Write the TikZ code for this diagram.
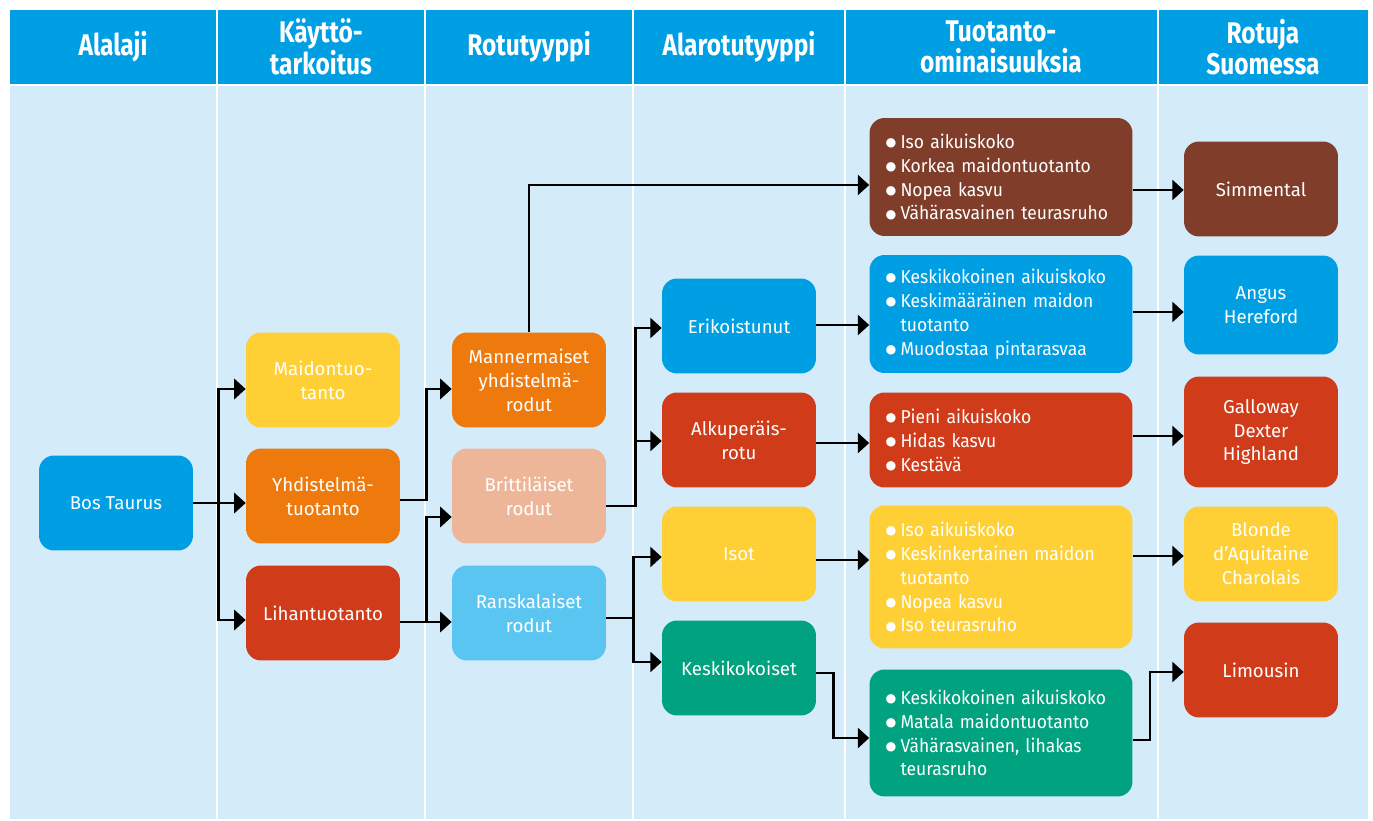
\documentclass[tikz,border=0pt]{standalone}
\usepackage{fontspec}
\setmainfont{Fira Sans}
\newfontfamily\headfont{Fira Sans}[FakeStretch=0.82]
\newfontfamily\traitfam{Fira Sans}[FakeStretch=0.94]
\newfontfamily\dotfont{DejaVu Sans}
\usetikzlibrary{arrows.meta}

\definecolor{hblue}{HTML}{009FE3}
\definecolor{bgblue}{HTML}{D4ECFA}
\definecolor{cblue}{HTML}{009FE3}
\definecolor{cyellow}{HTML}{FFD035}
\definecolor{corange}{HTML}{EE7A0E}
\definecolor{cred}{HTML}{D03C1A}
\definecolor{csalmon}{HTML}{EEB698}
\definecolor{clight}{HTML}{5BC5F1}
\definecolor{cgreen}{HTML}{00A27F}
\definecolor{cbrown}{HTML}{7F3D2A}

\newcommand{\bodyfont}{\fontsize{10.6pt}{13.6pt}\selectfont}
\newcommand{\traitfont}{\traitfam\fontsize{10.6pt}{13.6pt}\selectfont}
\newcommand{\bul}{\makebox[0.3cm][l]{\raisebox{1.1pt}{\dotfont\fontsize{7pt}{0pt}\selectfont ●}}}
\newcommand{\ind}{\hspace*{0.3cm}}

\begin{document}
\begin{tikzpicture}[x=0.02cm,y=-0.02cm,
	box/.style={rounded corners=0.3cm, minimum width=3.08cm, minimum height=1.9cm,
		align=center, text=white, font=\bodyfont, inner sep=2pt},
	trait/.style={rounded corners=0.3cm, text width=4.62cm, inner xsep=0.32cm,
		minimum height=#1, align=left, text=white, font=\traitfont},
	head/.style={text=white, align=center, font=\headfont\bfseries\fontsize{17pt}{18pt}\selectfont},
	sep/.style={white, line width=1.2pt},
	conn/.style={line width=1.4pt, -{Triangle[length=6.5pt,width=11.5pt]}}]
	\useasboundingbox (0,0) rectangle (1373,821);

	% background and header
	\fill[bgblue] (10,85) rectangle (1368,819);
	\fill[hblue] (10,10) rectangle (1368,85);
	\draw[sep] (217,10) -- (217,819);
	\draw[sep] (425,10) -- (425,819);
	\draw[sep] (633,10) -- (633,819);
	\draw[sep] (845,10) -- (845,819);
	\draw[sep] (1158,10) -- (1158,819);
	\draw[sep] (10,85) -- (1368,85);

	\node[head] (hAlalaji) at (113,47) {Alalaji};
	\node[head] (hKaytto) at (321,47) {Käyttö-\\tarkoitus};
	\node[head] (hRotu) at (529,47) {Rotutyyppi};
	\node[head] (hAlarotu) at (739,47) {Alarotutyyppi};
	\node[head] (hTuotanto) at (1001,47) {Tuotanto-\\ominaisuuksia};
	\node[head] (hSuomi) at (1263,47) {Rotuja\\Suomessa};

	% columns of boxes
	\node[box, fill=cblue] (bos) at (116,503) {Bos Taurus};

	\node[box, fill=cyellow] (maid) at (323,380) {Maidontuo-\\tanto};
	\node[box, fill=corange] (yhd) at (323,496) {Yhdistelmä-\\tuotanto};
	\node[box, fill=cred] (liha) at (323,613) {Lihantuotanto};

	\node[box, fill=corange] (mann) at (529,380) {Mannermaiset\\yhdistelmä-\\rodut};
	\node[box, fill=csalmon] (brit) at (529,496) {Brittiläiset\\rodut};
	\node[box, fill=clight] (rans) at (529,613) {Ranskalaiset\\rodut};

	\node[box, fill=cblue] (erik) at (739,326) {Erikoistunut};
	\node[box, fill=cred] (alku) at (739,440) {Alkuperäis-\\rotu};
	\node[box, fill=cyellow] (isot) at (739,554) {Isot};
	\node[box, fill=cgreen] (kesk) at (739,668) {Keskikokoiset};

	\node[trait=2.36cm, fill=cbrown] (t1) at (1001,177)
		{\bul Iso aikuiskoko\\\bul Korkea maidontuotanto\\\bul Nopea kasvu\\\bul Vähärasvainen teurasruho};
	\node[trait=2.36cm, fill=cblue] (t2) at (1001,314)
		{\bul Keskikokoinen aikuiskoko\\\bul Keskimääräinen maidon\\\ind tuotanto\\\bul Muodostaa pintarasvaa};
	\node[trait=1.9cm, fill=cred] (t3) at (1001,440)
		{\bul Pieni aikuiskoko\\\bul Hidas kasvu\\\bul Kestävä};
	\node[trait=2.86cm, fill=cyellow] (t4) at (1001,577)
		{\bul Iso aikuiskoko\\\bul Keskinkertainen maidon\\\ind tuotanto\\\bul Nopea kasvu\\\bul Iso teurasruho};
	\node[trait=2.54cm, fill=cgreen] (t5) at (1001,733)
		{\bul Keskikokoinen aikuiskoko\\\bul Matala maidontuotanto\\\bul Vähärasvainen, lihakas\\\ind teurasruho};

	\node[box, fill=cbrown] (simm) at (1261,189) {Simmental};
	\node[box, fill=cblue, minimum height=1.98cm] (angus) at (1261,305) {Angus\\Hereford};
	\node[box, fill=cred, minimum height=2.22cm] (gallo) at (1261,432) {Galloway\\Dexter\\Highland};
	\node[box, fill=cyellow] (blonde) at (1261,554) {Blonde\\d’Aquitaine\\Charolais};
	\node[box, fill=cred] (limo) at (1261,670) {Limousin};

	% connectors
	\draw[conn] (bos.east) -- ++(25,0) |- (maid.west |- 0,389);
	\draw[conn] (bos.east) -- (yhd.west |- bos.east);
	\draw[conn] (bos.east) -- ++(25,0) |- (liha.west |- 0,620);

	\draw[conn] (yhd.east |- 0,500) -- ++(26,0) |- (mann.west |- 0,389);
	\draw[conn] (liha.east |- 0,622) -- (rans.west |- 0,622);
	\draw[conn] (liha.east |- 0,622) -- ++(26,0) |- (brit.west |- 0,517);

	\draw[conn] (mann.north) |- (t1.west |- 0,185);
	\draw[conn] (brit.east |- 0,506) -- ++(29,0) |- (erik.west |- 0,328);
	\draw[conn] (brit.east |- 0,506) -- ++(29,0) |- (alku.west |- 0,441);
	\draw[conn] (rans.east |- 0,618) -- ++(27,0) |- (isot.west |- 0,557);
	\draw[conn] (rans.east |- 0,618) -- ++(27,0) |- (kesk.west |- 0,662);

	\draw[conn] (erik.east |- 0,325) -- (t2.west |- 0,325);
	\draw[conn] (alku.east |- 0,443) -- (t3.west |- 0,443);
	\draw[conn] (isot.east |- 0,560) -- (t4.west |- 0,560);
	\draw[conn] (kesk.east |- 0,673) -- ++(17,0) |- (t5.west |- 0,738);

	\draw[conn] (t1.east |- 0,190) -- (simm.west |- 0,190);
	\draw[conn] (t2.east |- 0,312) -- (angus.west |- 0,312);
	\draw[conn] (t3.east |- 0,436) -- (gallo.west |- 0,436);
	\draw[conn] (t4.east |- 0,556) -- (blonde.west |- 0,556);
	\draw[conn] (t5.east |- 0,740) -- ++(17,0) |- (limo.west |- 0,672);
\end{tikzpicture}
\end{document}
